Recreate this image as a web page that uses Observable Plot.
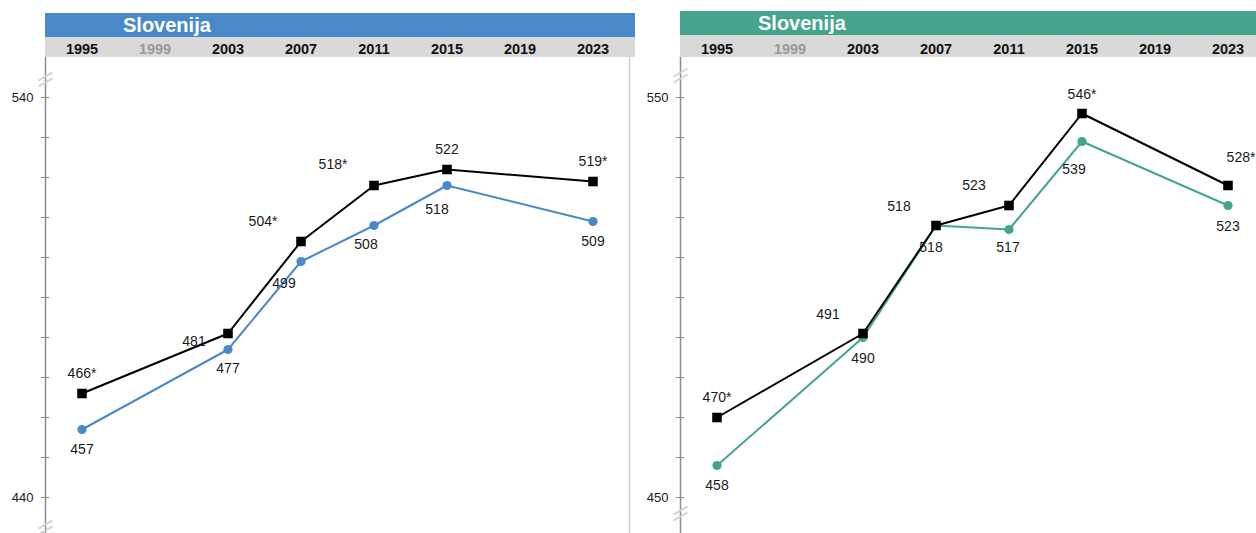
<!DOCTYPE html>
<html><head><meta charset="utf-8">
<script src="https://cdn.jsdelivr.net/npm/d3@7"></script>
<script src="https://cdn.jsdelivr.net/npm/@observablehq/plot@0.6"></script>
<style>
body{margin:0;background:#fff;font-family:"Liberation Sans",Arial,sans-serif;}
#wrap{position:relative;width:1256px;height:533px;overflow:hidden;background:#fff;}
.hdr{position:absolute;color:#fff;font-weight:bold;font-size:20px;line-height:24px;box-sizing:border-box;}
.band{position:absolute;background:#d9d9d9;}
.panel{position:absolute;top:0;}
</style></head><body><div id="wrap"></div>
<script>
// ---- data ----
const country = "Slovenija";
const years = [1995, 1999, 2003, 2007, 2011, 2015, 2019, 2023];
const dimYears = [1999];

const leftYears = [1995, 2003, 2007, 2011, 2015, 2023];
const leftBlack = [466, 481, 504, 518, 522, 519];
const leftBlackLabels = ["466*", "481", "504*", "518*", "522", "519*"];
const leftBlue = [457, 477, 499, 508, 518, 509];
const leftBlueLabels = ["457", "477", "499", "508", "518", "509"];
const leftTicks = [440, 450, 460, 470, 480, 490, 500, 510, 520, 530, 540];
const leftTickLabels = [440, 540];

const rightYears = [1995, 2003, 2007, 2011, 2015, 2023];
const rightBlack = [470, 491, 518, 523, 546, 528];
const rightBlackLabels = ["470*", "491", "518", "523", "546*", "528*"];
const rightGreen = [458, 490, 518, 517, 539, 523];
const rightGreenLabels = ["458", "490", "518", "517", "539", "523"];
const rightTicks = [450, 460, 470, 480, 490, 500, 510, 520, 530, 540, 550];
const rightTickLabels = [450, 550];

// ---- label placement (layout only) ----
const leftBlackOff = [[0,-20],[-34,8],[-38,-20],[-41,-21],[0,-20],[0,-20]];
const leftBlueOff = [[0,20],[0,19],[-17,22],[-8,19],[-10,24],[0,20]];
const rightBlackOff = [[0,-20],[-35,-19],[-37,-19],[-35,-20],[0,-19],[13,-28]];
const rightGreenOff = [[0,20],[0,21],[-5,22],[-1,18],[-8,28],[0,21]];

const wrap = document.getElementById("wrap");

function panel(cfg) {
  const el = document.createElement("div");
  el.className = "panel";
  el.style.left = cfg.left + "px";
  el.style.width = cfg.width + "px";
  el.style.height = "533px";
  wrap.appendChild(el);

  const hdr = document.createElement("div");
  hdr.className = "hdr";
  hdr.style.left = cfg.axisLeft + "px";
  hdr.style.top = cfg.hdrTop + "px";
  hdr.style.width = cfg.hdrWidth + "px";
  hdr.style.height = "24px";
  hdr.style.background = cfg.color;
  hdr.style.paddingLeft = "78px";
  hdr.textContent = country;
  el.appendChild(hdr);

  const band = document.createElement("div");
  band.className = "band";
  band.style.left = cfg.axisLeft + "px";
  band.style.top = (cfg.hdrTop + 24) + "px";
  band.style.width = cfg.hdrWidth + "px";
  band.style.height = (57 - cfg.hdrTop - 24) + "px";
  el.appendChild(band);

  const black = cfg.years.map((yr, i) => ({year: yr, v: cfg.black[i], label: cfg.blackLabels[i], off: cfg.blackOff[i]}));
  const col = cfg.years.map((yr, i) => ({year: yr, v: cfg.col[i], label: cfg.colLabels[i], off: cfg.colOff[i]}));
  const yLo = cfg.ticks[0] - 7, yHi = cfg.ticks[cfg.ticks.length - 1] + 10;
  const pxPerYear = 73 / 4, pxPerUnit = 4;
  // axis-break slashes: two short parallel strokes, built in pixel offsets
  const px = (cy, ox, oy) => ({x: 1993 + ox / pxPerYear, y: cy - oy / pxPerUnit});
  const breakSegs = cfg.breaks.flatMap(b => [-3, 3].map(s => {
    const a = px(b, -7, 4 + s), c = px(b, 7, -4 + s);
    return {x1: a.x, y1: a.y, x2: c.x, y2: c.y};
  }));

  const labelMarks = [...black, ...col].map(d =>
    Plot.text([d], {x: "year", y: "v", text: "label", dx: d.off[0], dy: d.off[1],
      fontSize: 14, fill: "#1a1a1a"}));

  const chart = Plot.plot({
    width: cfg.width, height: 533,
    marginLeft: cfg.axisLeft, marginRight: 0, marginTop: 57, marginBottom: 8,
    style: {background: "transparent", fontFamily: "Liberation Sans, Arial, sans-serif", overflow: "visible"},
    x: {domain: [1993, 2025], range: [cfg.axisLeft, cfg.axisLeft + 32 * pxPerYear]},
    y: {domain: [yLo, yHi], range: [525, 57]},
    marks: [
      cfg.border ? Plot.ruleX([2025], {y1: yLo - 2, y2: yHi, stroke: "#cfcfcf", strokeWidth: 1.5}) : null,
      Plot.ruleX([1993], {y1: yLo - 2, y2: yHi, stroke: "#8c8c8c", strokeWidth: 1.5}),
      Plot.axisY({ticks: cfg.ticks, tickSize: 8, dx: 4, tickPadding: 8, stroke: "#8c8c8c", fontSize: 13, color: "#1a1a1a",
        tickFormat: d => cfg.tickLabels.includes(d) ? String(d) : "", label: null}),
      Plot.link(breakSegs, {x1: "x1", y1: "y1", x2: "x2", y2: "y2", stroke: "#d0d0d0", strokeWidth: 2}),
      Plot.axisX({anchor: "top", ticks: years.filter(y => !dimYears.includes(y)), tickSize: 0, tickPadding: 4,
        tickFormat: d => String(d), fontSize: 14.5, fontWeight: "bold", fill: "#111", label: null}),
      Plot.axisX({anchor: "top", ticks: dimYears, tickSize: 0, tickPadding: 4,
        tickFormat: d => String(d), fontSize: 14.5, fontWeight: "bold", fill: "#999", label: null}),
      Plot.line(col, {x: "year", y: "v", stroke: cfg.color, strokeWidth: 2}),
      Plot.dot(col, {x: "year", y: "v", r: 4.6, fill: cfg.color, stroke: null}),
      Plot.line(black, {x: "year", y: "v", stroke: "#000", strokeWidth: 2}),
      Plot.dot(black, {x: "year", y: "v", symbol: "square", r: 5.4, fill: "#000", stroke: null}),
      ...labelMarks
    ]
  });
  chart.style.position = "absolute";
  chart.style.left = "0px";
  chart.style.top = "0px";
  el.appendChild(chart);
}

panel({left: 0, width: 640, axisLeft: 45, hdrTop: 13, hdrWidth: 590, color: "#4a89c8", border: true,
  years: leftYears, black: leftBlack, blackLabels: leftBlackLabels, col: leftBlue, colLabels: leftBlueLabels,
  blackOff: leftBlackOff, colOff: leftBlueOff, ticks: leftTicks, tickLabels: leftTickLabels, breaks: [544.5, 432.5]});
panel({left: 630, width: 626, axisLeft: 50, hdrTop: 11, hdrWidth: 576, color: "#45a58c", border: false,
  years: rightYears, black: rightBlack, blackLabels: rightBlackLabels, col: rightGreen, colLabels: rightGreenLabels,
  blackOff: rightBlackOff, colOff: rightGreenOff, ticks: rightTicks, tickLabels: rightTickLabels, breaks: [555.5, 446]});
</script></body></html>
